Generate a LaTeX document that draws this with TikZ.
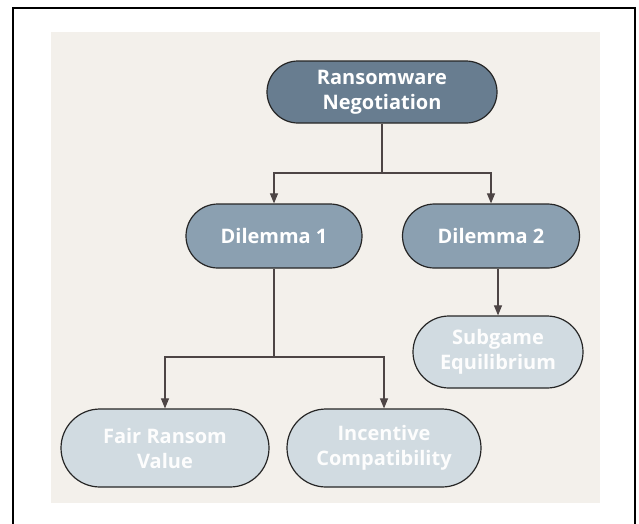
\documentclass[tikz,border=0pt]{standalone}
\usepackage{fontspec}
\setmainfont{Open Sans}
\usetikzlibrary{arrows.meta,shapes.misc}
\definecolor{pageBack}{HTML}{F3F0EB}
\definecolor{rootFill}{HTML}{687D90}
\definecolor{midFill}{HTML}{8BA0B1}
\definecolor{leafFill}{HTML}{D1DBE1}
\definecolor{lineGray}{HTML}{4D4545}
\begin{document}
\begin{tikzpicture}[x=1pt,y=-1pt,%%
  boxStyle/.style={rounded rectangle,draw=black!85,line width=1.2pt,
    text=white,align=center,inner sep=0pt,
    font=\fontsize{20}{25}\selectfont\bfseries},%%
  rootStyle/.style={boxStyle,fill=rootFill},%%
  midStyle/.style={boxStyle,fill=midFill},%%
  leafStyle/.style={boxStyle,fill=leafFill,text=white!95!leafFill},%%
  arrowStyle/.style={-{Triangle[width=8pt,length=10pt]},line width=1.1pt,lineGray},%%
  lineStyle/.style={-,line width=1.1pt,lineGray}%%
]
%%
\useasboundingbox (0,0) rectangle (639,523);
%% Frame and background.
\draw[line width=1.3pt] (13,530) -- (13,8) -- (635,8) -- (635,530);
\fill[pageBack] (51,32) rectangle (600,503);
%%
%% The boxes.
\node[rootStyle,minimum width=230pt,minimum height=62pt] (root) at (382,92)
  {Ransomware\\Negotiation};
\node[midStyle,minimum width=176pt,minimum height=64pt] (dilOne) at (274,236)
  {Dilemma 1};
\node[midStyle,minimum width=177pt,minimum height=64pt] (dilTwo) at (491,236)
  {Dilemma 2};
\node[leafStyle,minimum width=208pt,minimum height=78pt] (fair) at (165,448)
  {Fair Ransom\\Value};
\node[leafStyle,minimum width=194pt,minimum height=78pt] (incentive) at (384,448)
  {Incentive\\Compatibility};
\node[leafStyle,minimum width=170pt,minimum height=72pt] (subgame) at (498,352)
  {Subgame\\Equilibrium};
%%
%% Connectors from the root.
\coordinate (rootSplit) at (382,173);
\draw[lineStyle] (root.south) -- (rootSplit);
\draw[arrowStyle] (rootSplit) -| (dilOne.north);
\draw[arrowStyle] (rootSplit) -| (dilTwo.north);
%% Connectors from the first dilemma.
\coordinate (dilSplit) at (274,357);
\draw[lineStyle] (dilOne.south) -- (dilSplit);
\draw[arrowStyle] (dilSplit) -| (fair.north);
\draw[arrowStyle] (dilSplit) -| (incentive.north);
%% Connector from the second dilemma.
\draw[arrowStyle] (dilTwo.south -| subgame.north) -- (subgame.north);
\end{tikzpicture}
\end{document}
